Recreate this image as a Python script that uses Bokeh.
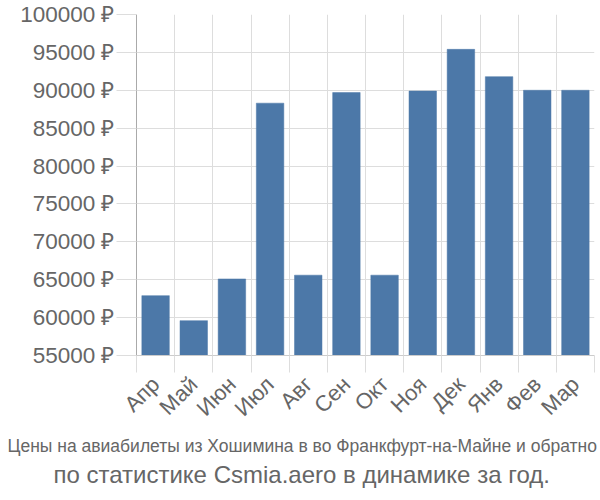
import math
from bokeh.plotting import figure
from bokeh.models import FixedTicker, Range1d, Title, ColumnDataSource
from bokeh.embed import file_html
from bokeh.resources import INLINE

months = ["Апр", "Май", "Июн", "Июл", "Авг", "Сен", "Окт", "Ноя", "Дек", "Янв", "Фев", "Мар"]
prices = [62900, 59600, 65100, 88300, 65600, 89700, 65600, 89900, 95400, 91800, 90000, 90000]
y_ticks = [55000, 60000, 65000, 70000, 75000, 80000, 85000, 90000, 95000, 100000]
title_line1 = "Цены на авиабилеты из Хошимина в во Франкфурт-на-Майне и обратно"
title_line2 = "по статистике Csmia.aero в динамике за год."

centers = [i + 0.5 for i in range(len(months))]
bounds = list(range(len(months) + 1))

src = ColumnDataSource(dict(x=centers, top=prices, month=months))

p = figure(frame_width=458, frame_height=341, output_backend="svg", toolbar_location=None,
           x_range=Range1d(0, len(months)), y_range=Range1d(55000, 100000),
           min_border_left=136, min_border_right=6, min_border_top=14, min_border_bottom=0,
           background_fill_color="white", border_fill_color="white")
p.outline_line_color = None

p.vbar(x="x", top="top", bottom=55000, width=0.72, source=src,
       fill_color="#4c78a8", line_color="#4c78a8", line_width=0.5)

# y axis
p.yaxis.ticker = FixedTicker(ticks=y_ticks, minor_ticks=[])
p.yaxis.major_label_overrides = {t: f"{t} ₽" for t in y_ticks}
p.yaxis.major_tick_out = 20
p.yaxis.major_tick_in = 0
p.yaxis.major_tick_line_color = "#dddddd"
p.yaxis.axis_line_color = "#aaaaaa"
p.yaxis.major_label_standoff = 2
p.yaxis.major_label_text_font = "Liberation Sans"
p.yaxis.major_label_text_font_size = "22.5px"
p.yaxis.major_label_text_color = "#666666"

# x axis
p.xaxis.ticker = FixedTicker(ticks=centers, minor_ticks=bounds)
p.xaxis.major_label_overrides = {c: m for c, m in zip(centers, months)}
p.xaxis.major_tick_out = 0
p.xaxis.major_tick_in = 0
p.xaxis.minor_tick_out = 17
p.xaxis.minor_tick_in = 0
p.xaxis.minor_tick_line_color = "#dddddd"
p.xaxis.axis_line_color = "#cccccc"
p.xaxis.major_label_orientation = math.pi / 4
p.xaxis.major_label_standoff = 8
p.xaxis.major_label_text_font = "Liberation Sans"
p.xaxis.major_label_text_font_size = "22px"
p.xaxis.major_label_text_color = "#666666"

p.xgrid.ticker = FixedTicker(ticks=bounds)
p.ygrid.ticker = FixedTicker(ticks=y_ticks)
p.xgrid.grid_line_color = "#dddddd"
p.ygrid.grid_line_color = "#dddddd"

t1 = Title(text=title_line1, align="left", offset=-129, text_font="Liberation Sans",
           text_font_size="17.5px", text_font_style="normal", text_color="#666666",
           standoff=3)
t2 = Title(text=title_line2, align="left", offset=-83, text_font="Liberation Sans",
           text_font_size="24px", text_font_style="normal", text_color="#666666",
           standoff=2)
p.add_layout(t1, "below")
p.add_layout(t2, "below")

open("out.html", "w").write(file_html(p, INLINE))
